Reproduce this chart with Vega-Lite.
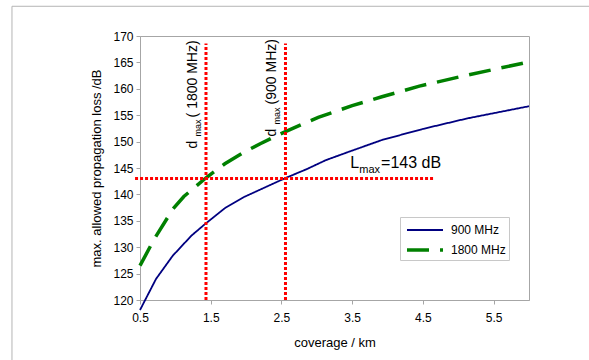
{
  "$schema": "https://vega.github.io/schema/vega-lite/v6.json",
  "width": 389,
  "height": 264,
  "autosize": {"type": "none"},
  "padding": {"left": 140, "top": 36, "right": 60, "bottom": 60},
  "background": "white",
  "config": {
    "view": {"stroke": "#a6a6a6", "strokeWidth": 1},
    "axis": {"domainColor": "#a6a6a6", "tickColor": "#a6a6a6", "grid": false, "labelColor": "#000000", "titleColor": "#000000", "labelFont": "Liberation Sans", "titleFont": "Liberation Sans", "labelFontSize": 12, "titleFontSize": 13, "titleFontWeight": "normal", "tickSize": 4, "labelOverlap": false, "labelFlush": false},
    "text": {"font": "Liberation Sans", "color": "#000000"},
    "legend": {"orient": "none", "legendX": 260, "legendY": 181, "padding": 3, "strokeColor": "#c8c8c8", "fillColor": "white", "symbolType": "M-2,0H2", "symbolSize": 324, "symbolOffset": 11, "labelFont": "Liberation Sans", "labelFontSize": 12, "labelColor": "#000000", "labelOffset": 15, "rowPadding": 3, "title": null}
  },
  "layer": [
    {
      "data": {"values": [{"coverage": -1.31, "coverage2": 20, "loss": 175.63, "loss2": 0}]},
      "mark": {"type": "rect", "fillOpacity": 0, "stroke": "#b4b4b4", "strokeWidth": 1, "clip": false},
      "encoding": {
        "x": {"field": "coverage", "type": "quantitative"},
        "x2": {"field": "coverage2"},
        "y": {"field": "loss", "type": "quantitative"},
        "y2": {"field": "loss2"}
      }
    },
    {
      "data": {"values": [
        {"coverage": 0.5, "loss": 118.1, "band": "900 MHz"},
        {"coverage": 0.727, "loss": 124.0, "band": "900 MHz"},
        {"coverage": 0.964, "loss": 128.4, "band": "900 MHz"},
        {"coverage": 1.228, "loss": 132.2, "band": "900 MHz"},
        {"coverage": 1.43, "loss": 134.5, "band": "900 MHz"},
        {"coverage": 1.70, "loss": 137.4, "band": "900 MHz"},
        {"coverage": 1.97, "loss": 139.5, "band": "900 MHz"},
        {"coverage": 2.23, "loss": 141.1, "band": "900 MHz"},
        {"coverage": 2.557, "loss": 143.1, "band": "900 MHz"},
        {"coverage": 2.86, "loss": 144.8, "band": "900 MHz"},
        {"coverage": 3.13, "loss": 146.5, "band": "900 MHz"},
        {"coverage": 3.50, "loss": 148.3, "band": "900 MHz"},
        {"coverage": 3.92, "loss": 150.3, "band": "900 MHz"},
        {"coverage": 4.50, "loss": 152.4, "band": "900 MHz"},
        {"coverage": 5.13, "loss": 154.4, "band": "900 MHz"},
        {"coverage": 6.0, "loss": 156.7, "band": "900 MHz"},
        {"coverage": 0.5, "loss": 126.5, "band": "1800 MHz"},
        {"coverage": 0.70, "loss": 131.5, "band": "1800 MHz"},
        {"coverage": 0.964, "loss": 137.2, "band": "1800 MHz"},
        {"coverage": 1.12, "loss": 139.6, "band": "1800 MHz"},
        {"coverage": 1.43, "loss": 143.1, "band": "1800 MHz"},
        {"coverage": 1.70, "loss": 145.8, "band": "1800 MHz"},
        {"coverage": 1.97, "loss": 148.0, "band": "1800 MHz"},
        {"coverage": 2.2, "loss": 149.6, "band": "1800 MHz"},
        {"coverage": 2.557, "loss": 151.9, "band": "1800 MHz"},
        {"coverage": 3.02, "loss": 154.6, "band": "1800 MHz"},
        {"coverage": 3.50, "loss": 156.8, "band": "1800 MHz"},
        {"coverage": 3.92, "loss": 158.5, "band": "1800 MHz"},
        {"coverage": 4.45, "loss": 160.5, "band": "1800 MHz"},
        {"coverage": 5.13, "loss": 162.6, "band": "1800 MHz"},
        {"coverage": 6.0, "loss": 165.1, "band": "1800 MHz"}
      ]},
      "mark": {"type": "line", "clip": false},
      "encoding": {
        "x": {"field": "coverage", "type": "quantitative", "scale": {"domain": [0.5, 6], "nice": false, "zero": false},
              "axis": {"title": "coverage / km", "values": [0.5, 1.5, 2.5, 3.5, 4.5, 5.5], "format": ".1f", "labelPadding": 8, "titlePadding": 13, "labelOverlap": false}},
        "y": {"field": "loss", "type": "quantitative", "scale": {"domain": [120, 170], "nice": false, "zero": false},
              "axis": {"title": "max. allowed propagation loss /dB", "values": [120, 125, 130, 135, 140, 145, 150, 155, 160, 165, 170], "tickCount": 11, "labelPadding": 3, "titlePadding": 9, "labelOverlap": false}},
        "color": {"field": "band", "type": "nominal", "scale": {"domain": ["900 MHz", "1800 MHz"], "range": ["#000080", "#008000"]}},
        "strokeDash": {"field": "band", "type": "nominal", "scale": {"domain": ["900 MHz", "1800 MHz"], "range": [[1, 0], [22, 11]]}},
        "strokeWidth": {"field": "band", "type": "ordinal", "scale": {"domain": ["900 MHz", "1800 MHz"], "range": [1.8, 3.5]}}
      }
    },
    {
      "data": {"values": [
        {"coverage": 0.43, "coverage2": 4.67, "loss": 143, "loss2": 143},
        {"coverage": 1.433, "coverage2": 1.433, "loss": 120, "loss2": 168.6},
        {"coverage": 2.557, "coverage2": 2.557, "loss": 120, "loss2": 168.6}
      ]},
      "mark": {"type": "rule", "color": "#ff0000", "strokeWidth": 3, "strokeDash": [3, 2], "clip": false},
      "encoding": {
        "x": {"field": "coverage", "type": "quantitative"},
        "x2": {"field": "coverage2"},
        "y": {"field": "loss", "type": "quantitative"},
        "y2": {"field": "loss2"}
      }
    },
    {
      "data": {"values": [
        {"coverage": 1.30, "loss": 148.7, "label": "d"},
        {"coverage": 1.30, "loss": 154.58, "label": "( 1800 MHz)"},
        {"coverage": 2.422, "loss": 150.97, "label": "d"},
        {"coverage": 2.422, "loss": 157.04, "label": "(900 MHz)"}
      ]},
      "mark": {"type": "text", "angle": 270, "align": "left", "baseline": "alphabetic", "fontSize": 14},
      "encoding": {
        "x": {"field": "coverage", "type": "quantitative"},
        "y": {"field": "loss", "type": "quantitative"},
        "text": {"field": "label"}
      }
    },
    {
      "data": {"values": [
        {"coverage": 1.356, "loss": 150.97, "label": "max"},
        {"coverage": 2.478, "loss": 153.25, "label": "max"}
      ]},
      "mark": {"type": "text", "angle": 270, "align": "left", "baseline": "alphabetic", "fontSize": 9},
      "encoding": {
        "x": {"field": "coverage", "type": "quantitative"},
        "y": {"field": "loss", "type": "quantitative"},
        "text": {"field": "label"}
      }
    },
    {
      "data": {"values": [
        {"coverage": 3.474, "loss": 144.96, "label": "L"},
        {"coverage": 3.909, "loss": 144.96, "label": "=143 dB"}
      ]},
      "mark": {"type": "text", "align": "left", "baseline": "alphabetic", "fontSize": 16},
      "encoding": {
        "x": {"field": "coverage", "type": "quantitative"},
        "y": {"field": "loss", "type": "quantitative"},
        "text": {"field": "label"}
      }
    },
    {
      "data": {"values": [
        {"coverage": 3.60, "loss": 143.96, "label": "max"}
      ]},
      "mark": {"type": "text", "align": "left", "baseline": "alphabetic", "fontSize": 11},
      "encoding": {
        "x": {"field": "coverage", "type": "quantitative"},
        "y": {"field": "loss", "type": "quantitative"},
        "text": {"field": "label"}
      }
    }
  ]
}
